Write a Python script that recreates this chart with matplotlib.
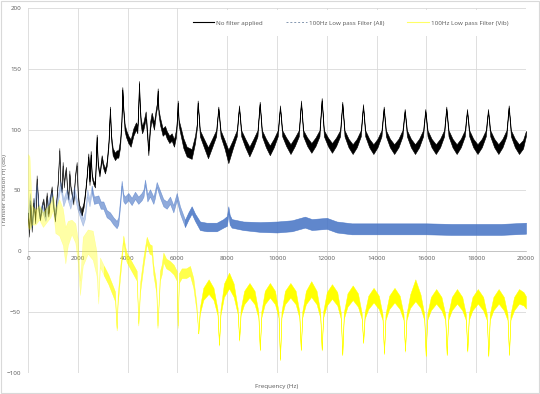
import matplotlib
matplotlib.use("Agg")
import matplotlib.pyplot as plt
from matplotlib.lines import Line2D
from matplotlib.patches import Rectangle
import numpy as np

plt.rcParams['font.family'] = ['Open Sans', 'DejaVu Sans']

# values (Hz, dB centre, half-width of the noisy band)
black_hz = [0, 40, 90, 150, 220, 290, 348, 420, 482, 560,
            616, 680, 750, 817, 880, 950, 1020, 1084, 1150, 1200,
            1258, 1300, 1351, 1392, 1440, 1486, 1525, 1570, 1620, 1660,
            1710, 1760, 1820, 1888, 1955, 2000, 2060, 2155, 2230, 2288,
            2350, 2423, 2470, 2517, 2560, 2620, 2690, 2758, 2800, 2870,
            2958, 3025, 3092, 3159, 3230, 3293, 3330, 3400, 3494, 3560,
            3627, 3694, 3750, 3788, 3829, 3880, 3936, 4029, 4123, 4230,
            4337, 4390, 4420, 4458, 4490, 4525, 4580, 4632, 4726, 4780,
            4833, 4900, 4967, 5060, 5141, 5180, 5208, 5240, 5301, 5408,
            5502, 5569, 5676, 5770, 5863, 5943, 5985, 6012, 6050, 6104,
            6238, 6372, 6572, 6707, 6780, 6814,
            6904, 7064, 7229, 7394, 7554, 7644,
            7734, 7894, 8045, 8224, 8384, 8474,
            8564, 8724, 8890, 9055, 9215, 9305,
            9395, 9555, 9712, 9870, 10030, 10120,
            10210, 10370, 10542, 10714, 10874, 10964,
            11054, 11214, 11380, 11545, 11705, 11795,
            11885, 12045, 12208, 12372, 12532, 12622,
            12712, 12872, 13038, 13204, 13364, 13454,
            13544, 13704, 13870, 14035, 14195, 14285,
            14375, 14535, 14706, 14878, 15038, 15128,
            15218, 15378, 15542, 15706, 15866, 15956,
            16046, 16206, 16378, 16549, 16709, 16799,
            16889, 17049, 17215, 17381, 17541, 17631,
            17721, 17881, 18052, 18224, 18384, 18474,
            18564, 18724, 18890, 19055, 19215, 19305,
            19395, 19555, 19720, 19880, 20000]
black_db = [30, 14, 40, 18, 42, 25, 61, 35, 27, 38,
            42, 30, 47, 30, 43, 52, 36, 26, 45, 58,
            84, 56, 50, 72, 54, 64, 68, 50, 44, 65,
            52, 47, 40, 62, 72, 46, 36, 32, 38, 47,
            60, 79, 56, 81, 62, 57, 54, 95, 72, 63,
            77, 70, 66, 72, 88, 118, 95, 82, 78, 80,
            80, 88, 105, 134, 116, 102, 97, 92, 89, 98,
            103, 100, 112, 139, 118, 107, 100, 103, 112, 98,
            81, 103, 111, 103, 116, 120, 133, 115, 107, 98,
            100, 96, 92, 94, 89, 97, 108, 123, 106, 101,
            89, 82, 80, 92, 103, 123,
            97, 89, 81, 89, 97, 118,
            97, 88, 78, 88, 97, 119,
            97, 89, 82, 89, 97, 122,
            97, 89, 83, 89, 97, 119,
            97, 90, 84, 90, 97, 123,
            97, 90, 85, 90, 97, 125,
            97, 90, 85, 90, 97, 122,
            97, 89, 84, 89, 97, 120,
            97, 89, 84, 89, 97, 118,
            97, 89, 84, 89, 97, 116,
            97, 89, 84, 89, 97, 116,
            97, 89, 84, 89, 97, 118,
            97, 89, 84, 89, 97, 116,
            97, 89, 84, 89, 97, 116,
            97, 89, 84, 89, 97, 119,
            97, 89, 84, 88, 97]
black_sp = [2, 2, 2, 2, 2, 2, 1.5, 1.5, 1.5, 1.5,
            1.5, 1.5, 1.5, 1.5, 1.5, 1.5, 1.5, 1.5, 1.5, 1.5,
            1, 1.5, 1.5, 1.5, 1.5, 1.5, 1.5, 1.5, 1.5, 1.5,
            1.5, 1.5, 1.5, 1.5, 1.5, 1.5, 2, 2.5, 2, 1.5,
            1.5, 1.5, 1.5, 1.5, 1.5, 1.5, 1.5, 1, 1.5, 1.5,
            2, 2, 2, 2, 2, 1, 2, 3, 3, 3,
            3, 3, 2, 1, 2, 3, 3, 3, 3, 3,
            3, 3, 2, 1, 2, 3, 3, 3, 3, 3,
            2, 3, 3, 3, 2, 2, 1, 2, 3, 3,
            3, 3, 3, 3, 3, 3, 2, 1, 2, 3,
            4, 4, 4, 3, 2, 1,
            2.5, 3.5, 4.5, 3.5, 2.5, 1,
            2.5, 3.5, 5.5, 3.5, 2.5, 1,
            2.5, 3.5, 4, 3.5, 2.5, 1,
            2.5, 3.5, 4, 3.5, 2.5, 1,
            2.5, 3.5, 4, 3.5, 2.5, 1,
            2.5, 3.5, 4, 3.5, 2.5, 1,
            2.5, 3.5, 4, 3.5, 2.5, 1,
            2.5, 3.5, 4, 3.5, 2.5, 1,
            2.5, 3.5, 4, 3.5, 2.5, 1,
            2.5, 3.5, 4, 3.5, 2.5, 1,
            2.5, 3.5, 4, 3.5, 2.5, 1,
            2.5, 3.5, 4, 3.5, 2.5, 1,
            2.5, 3.5, 4, 3.5, 2.5, 1,
            2.5, 3.5, 4, 3.5, 2.5, 1,
            2.5, 3.5, 4, 3.5, 2.5, 1,
            2.5, 3.5, 4, 3.5, 2]

blue_hz = [0, 80, 160, 250, 350, 450, 560, 700, 820, 950,
           1080, 1200, 1300, 1420, 1550, 1700, 1850, 1980, 2100, 2200,
           2290, 2380, 2470, 2558, 2650, 2825, 2920, 3025, 3159, 3293,
           3427, 3560, 3627, 3700, 3761, 3830, 3895, 4029, 4163, 4297,
           4430, 4565, 4640, 4700, 4793, 4900, 5034, 5100, 5168, 5300,
           5435, 5570, 5703, 5837, 5972, 6104, 6305, 6440, 6573, 6707,
           6908, 7175, 7577, 7845, 7990, 8045, 8100, 8180, 8650, 9317,
           10000, 10600, 11120, 11400, 12000, 12400, 13000, 14000, 15000, 16000,
           17000, 18000, 19000, 20000]
blue_db = [30, 45, 22, 40, 52, 30, 36, 28, 40, 46,
           30, 44, 55, 40, 48, 38, 50, 38, 30, 24,
           30, 48, 40, 51, 42, 43, 38, 38, 31, 29,
           25, 22, 25, 40, 56, 44, 42, 45, 41, 46,
           42, 45, 48, 57, 44, 48, 42, 47, 55, 47,
           40, 38, 42, 35, 45, 34, 23, 29, 34, 28,
           21, 20, 20, 23, 25, 34, 26, 23, 21, 20,
           20, 21, 24, 22, 23, 20, 18.5, 18.5, 18.5, 18.5,
           18, 18, 18, 19]
blue_sp = [3, 3, 3, 3, 3, 3, 3, 3, 3, 3,
           3, 3, 3, 3, 3, 3, 3, 3, 3, 3,
           3, 3, 3, 3, 3, 3, 3, 3, 3, 3,
           3, 3, 3, 3, 2, 3, 3, 3, 3, 3,
           3, 3, 3, 2, 3, 3, 3, 3, 2, 3,
           3, 3, 3, 3, 3, 3, 3, 3, 3, 3,
           3.5, 3.5, 3.5, 3.5, 4, 3, 4, 3.5, 3.5, 4,
           4.5, 4.5, 4.5, 4.5, 4.5, 4.5, 4.5, 4.5, 4.5, 4.5,
           4.5, 4.5, 4.5, 4.5]

yellow_hz = [0, 60, 150, 300, 450, 600, 750, 900, 1000, 1100,
             1250, 1400, 1500, 1600, 1750, 1900, 2000, 2088, 2200, 2400,
             2600, 2750, 2823, 2890, 3050, 3225, 3400, 3494, 3560, 3600,
             3695, 3829, 3900, 3963, 4150, 4365, 4431, 4500, 4631, 4767,
             4880, 4968, 5033, 5150, 5200, 5300, 5368, 5435, 5550, 5703,
             5850, 5972, 6010, 6060, 6172, 6350, 6506, 6640, 6760, 6840,
             6900, 7040, 7255, 7450, 7610, 7670, 7730, 7870, 8075, 8260,
             8420, 8480, 8540, 8680, 8895, 9100, 9250, 9310, 9370, 9510,
             9715, 9920, 10060, 10120, 10180, 10320, 10537, 10750, 10895, 10955,
             11015, 11160, 11375, 11590, 11735, 11795, 11855, 12000, 12208, 12420,
             12562, 12622, 12682, 12830, 13041, 13250, 13400, 13460, 13520, 13665,
             13878, 14090, 14237, 14297, 14357, 14505, 14719, 14930, 15081, 15141,
             15201, 15345, 15556, 15765, 15912, 15972, 16032, 16180, 16393, 16605,
             16755, 16815, 16875, 17020, 17229, 17440, 17583, 17643, 17703, 17850,
             18064, 18280, 18426, 18486, 18546, 18690, 18901, 19110, 19257, 19317,
             19377, 19520, 19720, 19900, 20000]
yellow_db = [50, 48, 30, 28, 32, 26, 30, 34, 40, 25,
             28, 20, 5, 15, 20, 15, 0, -30, 0, 8,
             5, -10, -40, -9, -16, -23, -32, -37, -64, -40,
             -18, 10, 0, -5, -12, -20, -60, -30, -9, 9,
             2, 1, -15, -30, -62, -20, -15, -5, -10, -12,
             -15, -20, -62, -22, -18, -18, -16, -26, -45, -67,
             -49, -35, -29, -35, -50, -77, -50, -32, -24, -32,
             -49, -73, -50, -38, -32, -38, -52, -81, -52, -38,
             -32, -38, -52, -89, -52, -38, -32, -38, -52, -81,
             -52, -38, -31, -38, -52, -81, -52, -39, -33, -39,
             -53, -85, -53, -40, -34, -40, -53, -75, -53, -42,
             -36, -42, -54, -84, -54, -42, -36, -42, -54, -82,
             -54, -41, -32, -41, -54, -86, -54, -43, -37, -43,
             -54, -85, -54, -43, -37, -43, -54, -82, -54, -43,
             -37, -43, -54, -86, -54, -43, -37, -43, -54, -85,
             -54, -43, -37, -39, -42]
yellow_sp = [30, 30, 8, 6, 6, 6, 6, 6, 6, 10,
             15, 15, 15, 10, 6, 8, 10, 6, 12, 10,
             12, 10, 3, 4, 4, 4, 4, 4, 1, 4,
             4, 3, 4, 4, 4, 4, 1, 4, 4, 3,
             4, 4, 4, 4, 1, 4, 4, 4, 4, 4,
             4, 4, 1, 4, 4, 4, 4, 4, 3, 0.5,
             2.5, 5, 6, 5, 2.5, 0.5, 2.5, 5.5, 6.5, 5.5,
             2.5, 0.5, 2.5, 5.5, 6, 5.5, 2.5, 0.5, 2.5, 5.5,
             6, 5.5, 2.5, 0.5, 2.5, 5.5, 6, 5.5, 2.5, 0.5,
             2.5, 5.5, 6.5, 5.5, 2.5, 0.5, 2.5, 5.5, 6, 5.5,
             2.5, 0.5, 2.5, 5.5, 6, 5.5, 2.5, 0.5, 2.5, 5.5,
             6, 5.5, 2.5, 0.5, 2.5, 5.5, 6, 5.5, 2.5, 0.5,
             2.5, 5.5, 9, 5.5, 2.5, 0.5, 2.5, 5.5, 6, 5.5,
             2.5, 0.5, 2.5, 5.5, 6, 5.5, 2.5, 0.5, 2.5, 5.5,
             6, 5.5, 2.5, 0.5, 2.5, 5.5, 6, 5.5, 2.5, 0.5,
             2.5, 5.5, 6, 5.5, 5]

labels = ['No filter applied', '100Hz Low pass Filter (All)', '100Hz Low pass Filter (Vib)']
TEXT = '#595959'
GRID = '#d9d9d9'


def draw_band(ax, hz, db, sp, color, splits, alphas, zorder, lw=0.4):
    """Fill the noisy band, paler pieces where the reference is faint."""
    hz = np.asarray(hz, float)
    db = np.asarray(db, float)
    sp = np.asarray(sp, float)
    edges = [0] + [int(np.searchsorted(hz, s)) for s in splits] + [len(hz)]
    for i, alpha in enumerate(alphas):
        a, b = edges[i], min(edges[i + 1] + 1, len(hz))
        ax.fill_between(hz[a:b], db[a:b] - sp[a:b], db[a:b] + sp[a:b],
                        color=color, alpha=alpha, lw=lw, zorder=zorder)


fig = plt.figure(figsize=(5.4, 3.94), dpi=100)
ax = fig.add_axes([28 / 540, 1 - 373 / 394, 498 / 540, 365 / 394])

draw_band(ax, black_hz, black_db, black_sp, 'black', [2100], [0.75, 1.0], 3)
draw_band(ax, blue_hz, blue_db, blue_sp, '#4472c4', [2500, 6300], [0.35, 0.6, 0.85], 4)
draw_band(ax, yellow_hz, yellow_db, yellow_sp, '#ffff00', [3000, 6840], [0.35, 0.7, 1.0], 5, lw=0.3)

ax.set_xlim(0, 20000)
ax.set_ylim(-100, 200)
ax.set_xticks(range(0, 20001, 2000))
ax.set_yticks(range(-100, 201, 50))
ax.grid(True, color=GRID, lw=0.6)
ax.set_axisbelow(True)
ax.tick_params(length=0, labelsize=4.5, colors=TEXT)
ax.tick_params(axis='y', pad=5)
ax.tick_params(axis='x', pad=3)
for side in ['top', 'right', 'left']:
    ax.spines[side].set_visible(False)
ax.spines['bottom'].set_position(('data', 0))
ax.spines['bottom'].set_color('#bfbfbf')
ax.spines['bottom'].set_linewidth(0.6)

ax.set_ylabel('Transfer function H₁ (dB)', fontsize=4.5, color=TEXT)
ax.yaxis.set_label_coords(-0.042, 0.5)
ax.set_xlabel('Frequency (Hz)', fontsize=4.5, color=TEXT)
ax.xaxis.set_label_coords(0.5, -0.03)

handles = [Line2D([], [], color='black', lw=0.8),
           Line2D([], [], color='#8497b0', lw=0.7, ls=(0, (2, 2))),
           Line2D([], [], color='#ffff66', lw=0.8)]
leg = ax.legend(handles, labels, loc='center right', bbox_to_anchor=(0.985, 0.959),
                ncol=3, fontsize=4.5, frameon=True, facecolor='white', edgecolor='none',
                framealpha=1, handlelength=3.4, handletextpad=0.4, columnspacing=3.6,
                borderpad=1.6, borderaxespad=0)
for t in leg.get_texts():
    t.set_color(TEXT)

fig.patches.append(Rectangle((0.002, 0.002), 0.996, 0.996, transform=fig.transFigure,
                             fill=False, ec=GRID, lw=0.8))

fig.savefig('out.png', dpi=100)
